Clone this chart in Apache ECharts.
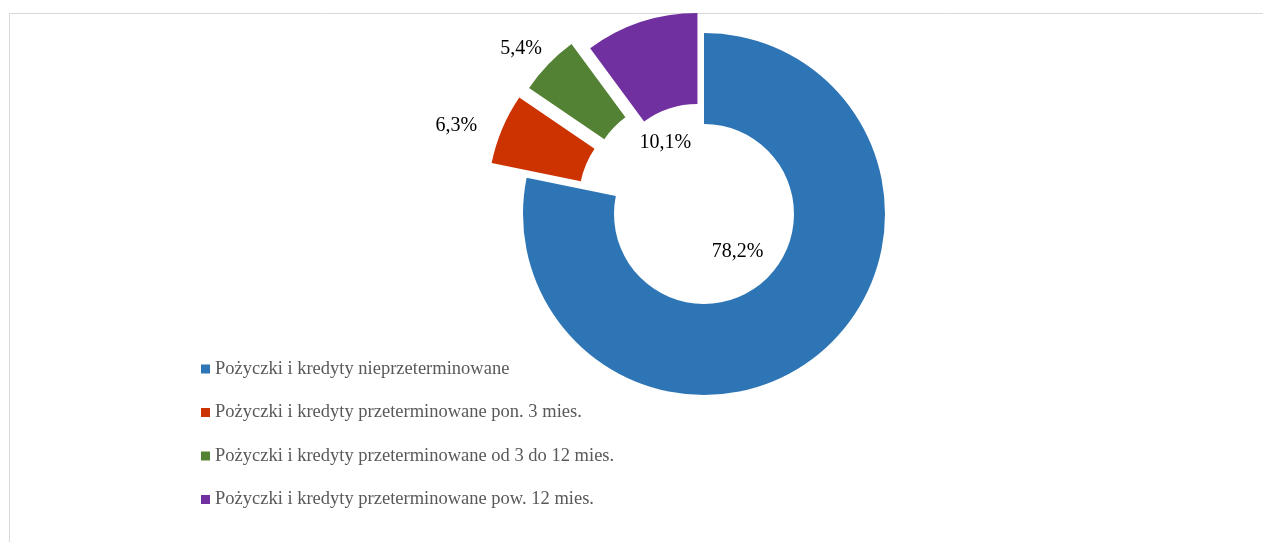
<!DOCTYPE html>
<html>
<head>
<meta charset="utf-8">
<script src="https://cdn.jsdelivr.net/npm/echarts@6/dist/echarts.min.js"></script>
<style>
html,body{margin:0;padding:0;background:#fff;}
#chart{width:1263px;height:542px;}
</style>
</head>
<body>
<div id="chart"></div>
<script>
var categories = [
  'Pożyczki i kredyty nieprzeterminowane',
  'Pożyczki i kredyty przeterminowane pon. 3 mies.',
  'Pożyczki i kredyty przeterminowane od 3 do 12 mies.',
  'Pożyczki i kredyty przeterminowane pow. 12 mies.'
];
var values = [78.2, 6.3, 5.4, 10.1];
var colors = ['#2E75B6', '#CC3300', '#548235', '#7030A0'];
var explodeOffsets = [0, 38, 35, 21];
var labelShift = [[-54, -70], [-85, -20], [-58, -45], [11, 80]];

var chart = echarts.init(document.getElementById('chart'), null, {renderer: 'canvas'});

var fontFamily = '"Liberation Serif", "Times New Roman", serif';

// one pie layer per slice so each slice can be exploded by its own distance
var series = categories.map(function (cat, k) {
  return {
    type: 'pie',
    name: cat,
    center: [704, 214],
    radius: [90, 181],
    startAngle: 90,
    clockwise: true,
    selectedMode: 'multiple',
    selectedOffset: explodeOffsets[k],
    avoidLabelOverlap: false,
    emphasis: {disabled: true},
    itemStyle: {borderWidth: 0},
    label: {
      show: true,
      position: 'inside',
      formatter: function (p) { return p.value.toFixed(1).replace('.', ',') + '%'; },
      fontFamily: fontFamily,
      fontSize: 20,
      color: '#000000'
    },
    labelLine: {show: false},
    labelLayout: function (params) {
      var s = labelShift[params.dataIndex];
      return {dx: s[0], dy: s[1]};
    },
    data: categories.map(function (name, i) {
      var own = i === k;
      return {
        name: name,
        value: values[i],
        selected: own && explodeOffsets[k] > 0,
        itemStyle: {color: own ? colors[i] : 'rgba(0,0,0,0)'},
        label: {show: own}
      };
    })
  };
});

chart.setOption({
  animation: false,
  backgroundColor: '#ffffff',
  graphic: [{
    type: 'rect',
    left: 7, top: 11,
    shape: {width: 1400, height: 700},
    style: {fill: 'none', stroke: '#d9d9d9', lineWidth: 1},
    silent: true
  }],
  legend: {
    orient: 'vertical',
    left: 201,
    top: 359,
    padding: 0,
    itemWidth: 9,
    itemHeight: 9,
    itemGap: 23.5,
    icon: 'rect',
    selectedMode: false,
    data: categories.map(function (name, i) {
      return {name: name, itemStyle: {color: colors[i]}};
    }),
    textStyle: {
      fontFamily: fontFamily,
      fontSize: 18.5,
      lineHeight: 20,
      color: '#595959'
    }
  },
  series: series
});
</script>
</body>
</html>
